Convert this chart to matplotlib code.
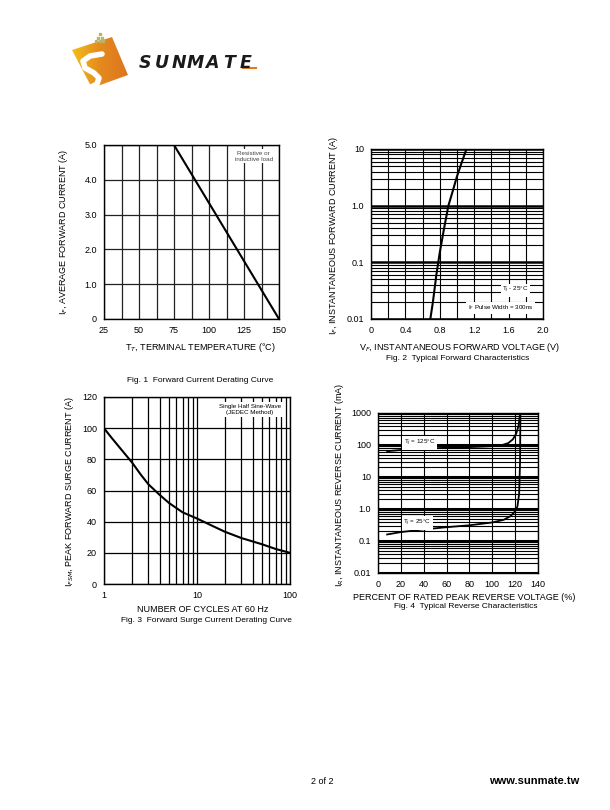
import numpy as np
import matplotlib.pyplot as plt
from matplotlib.patches import Polygon
from matplotlib.colors import LinearSegmentedColormap
from matplotlib.ticker import FixedLocator, NullFormatter

plt.rcParams['font.family'] = ['Liberation Sans', 'DejaVu Sans']

# ---- data ----
# Fig. 1  forward current derating
temp_c = [25, 75, 150]
if_avg = [5.0, 5.0, 0.0]
f1_xticks = [25, 50, 75, 100, 125, 150]
f1_yticks = [0, 1, 2, 3, 4, 5]
f1_ylabels = ['0', '1.0', '2.0', '3.0', '4.0', '5.0']

# Fig. 2  typical forward characteristics
vf = [0.69, 0.72, 0.76, 0.80, 0.85, 0.90, 0.95, 1.00, 1.05, 1.11]
if_inst = [0.01, 0.02, 0.06, 0.15, 0.4, 1.0, 1.8, 3.3, 5.5, 10]
f2_xticks = [0, 0.4, 0.8, 1.2, 1.6, 2.0]
f2_xlabels = ['0', '0.4', '0.8', '1.2', '1.6', '2.0']
f2_yticks = [0.01, 0.1, 1, 10]
f2_ylabels = ['0.01', '0.1', '1.0', '10']

# Fig. 3  forward surge current derating
cycles = [1, 1.2, 1.5, 2, 2.5, 3, 4, 5, 7, 10, 15, 20, 30, 50, 70, 100]
ifsm = [100, 94, 87, 78, 70, 64, 57, 52, 46, 42, 37, 33.5, 29.5, 25.5, 22.5, 20]
f3_xticks = [1, 10, 100]
f3_yticks = [0, 20, 40, 60, 80, 100, 120]

# Fig. 4  typical reverse characteristics
pct_125 = [8, 20, 40, 60, 80, 100, 108, 114, 118, 121, 123, 124]
ir_125 = [64, 70, 77, 82, 86, 92, 98, 115, 150, 230, 400, 800]
pct_25 = [8, 20, 40, 60, 80, 100, 110, 116, 120, 122, 123.5, 124.3, 124.6]
ir_25 = [0.16, 0.19, 0.23, 0.27, 0.31, 0.38, 0.46, 0.6, 0.85, 1.2, 3, 30, 1000]
f4_xticks = [0, 20, 40, 60, 80, 100, 120, 140]
f4_yticks = [0.01, 0.1, 1, 10, 100, 1000]
f4_ylabels = ['0.01', '0.1', '1.0', '10', '100', '1000']

W, H = 610, 810
fig = plt.figure(figsize=(W / 100, H / 100), dpi=100)


def px_axes(l, t, r, b):
    return fig.add_axes([l / W, 1 - b / H, (r - l) / W, (b - t) / H])


def ftext(x, y, s, **kw):
    fig.text(x / W, 1 - y / H, s, **kw)


# overlay for logo / footer
ov = fig.add_axes([0, 0, 1, 1])
ov.set_xlim(0, W)
ov.set_ylim(H, 0)
ov.axis('off')

sq = [(72, 50), (112, 37), (128, 75), (92, 88)]
poly = Polygon(sq, closed=True, facecolor='none', edgecolor='none')
ov.add_patch(poly)
grad = np.linspace(0, 1, 100).reshape(1, -1)
img = ov.imshow(grad, extent=(70, 130, 90, 35),
                cmap=LinearSegmentedColormap.from_list('lg', ['#F2C21A', '#E58A1E', '#DC741F']),
                aspect='auto', zorder=1)
img.set_clip_path(poly)
s_x = [102, 90, 83, 85, 94, 99, 97, 89]
s_y = [54, 56, 61, 68, 73, 78, 84, 88]
ov.plot(s_x, s_y, color='white', lw=4, solid_capstyle='round', solid_joinstyle='round', zorder=2)
for i in range(3):
    for j in range(3 - i):
        ov.plot(96 + 3.5 * j + 2 * i, 41 - 3.5 * i, 's', ms=2, color='#B9B46A', zorder=2)
for k, ch in enumerate('SUNMATE'):
    ov.text(145 + 16.8 * k, 63, ch, fontsize=12.5, fontweight='bold', fontstyle='italic',
            family='DejaVu Sans', color='#1a1a1a', ha='center', va='center')
ov.plot([243, 256], [68, 68], color='#E07A1F', lw=1.5)

ftext(322, 781, '2 of 2', fontsize=6.5, ha='center', va='center')
ftext(534, 781, 'www.sunmate.tw', fontsize=8, fontweight='bold', ha='center', va='center')


def style(ax):
    for sp in ax.spines.values():
        sp.set_linewidth(1.0)
        sp.set_color('black')
    ax.tick_params(which='both', length=0, labelsize=6.5, pad=5)
    ax.set_axisbelow(True)


box = dict(facecolor='white', edgecolor='none', pad=1.2)

# ---- Fig. 1 ----
ax1 = px_axes(104, 145, 279, 319)
ax1.plot(temp_c, if_avg, color='black', lw=1.5)
ax1.set_xlim(25, 150)
ax1.set_ylim(0, 5)
ax1.set_xticks(f1_xticks)
ax1.xaxis.set_minor_locator(FixedLocator([37.5, 62.5, 87.5, 112.5, 137.5]))
ax1.set_yticks(f1_yticks, f1_ylabels)
ax1.grid(True, which='both', color='#222222', lw=0.9)
style(ax1)
ax1.text(132, 4.68, 'Resistive or\ninductive load', fontsize=4.5, ha='center', va='center',
         color='#444444', bbox=box, linespacing=1.3)
ftext(63, 232, 'I$_F$, AVERAGE FORWARD CURRENT (A)', rotation=90, fontsize=6.5,
      ha='center', va='center')
ftext(200, 348, 'T$_T$, TERMINAL TEMPERATURE (°C)', fontsize=6.5, ha='center', va='center')
ftext(200, 381, 'Fig. 1  Forward Current Derating Curve', fontsize=6, ha='center', va='center')

# ---- Fig. 2 ----
ax2 = px_axes(371, 149, 543, 319)
ax2.plot(vf, if_inst, color='black', lw=1.5)
ax2.set_yscale('log')
ax2.set_xlim(0, 2.0)
ax2.set_ylim(0.01, 10)
ax2.set_xticks(f2_xticks, f2_xlabels)
ax2.xaxis.set_minor_locator(FixedLocator([0.2, 0.6, 1.0, 1.4, 1.8]))
ax2.set_yticks(f2_yticks, f2_ylabels)
ax2.yaxis.set_minor_formatter(NullFormatter())
ax2.grid(True, which='major', color='black', lw=1.8, axis='y')
ax2.grid(True, which='minor', color='black', lw=0.8, axis='y')
ax2.grid(True, which='both', color='black', lw=0.8, axis='x')
style(ax2)
ax2.text(1.68, 0.032, 'T$_j$ - 25°C', fontsize=4.5, ha='center', va='center', bbox=box)
ax2.text(1.51, 0.0158, 'I$_F$ Pulse Width = 300ns', fontsize=4.5, ha='center', va='center', bbox=box)
ftext(334, 235, 'I$_F$, INSTANTANEOUS FORWARD CURRENT (A)', rotation=90, fontsize=6.5,
      ha='center', va='center')
ftext(460, 348, 'V$_F$, INSTANTANEOUS FORWARD VOLTAGE (V)', fontsize=6.5, ha='center', va='center')
ftext(458, 358, 'Fig. 2  Typical Forward Characteristics', fontsize=6, ha='center', va='center')

# ---- Fig. 3 ----
ax3 = px_axes(104, 397, 290, 584)
ax3.plot(cycles, ifsm, color='black', lw=1.5)
ax3.set_xscale('log')
ax3.set_xlim(1, 100)
ax3.set_ylim(0, 120)
ax3.set_xticks(f3_xticks, [str(v) for v in f3_xticks])
ax3.xaxis.set_minor_formatter(NullFormatter())
ax3.set_yticks(f3_yticks)
ax3.grid(True, which='both', color='black', lw=0.9)
ax3.grid(False, which='minor', axis='y')
style(ax3)
ax3.text(37, 112, 'Single Half Sine-Wave\n(JEDEC Method)', fontsize=4.5, ha='center', va='center',
         bbox=box, linespacing=1.3)
ftext(70, 492, 'I$_{FSM}$, PEAK FORWARD SURGE CURRENT (A)', rotation=90, fontsize=6.5,
      ha='center', va='center')
ftext(203, 609, 'NUMBER OF CYCLES AT 60 Hz', fontsize=6.5, ha='center', va='center')
ftext(206, 620, 'Fig. 3  Forward Surge Current Derating Curve', fontsize=6, ha='center', va='center')

# ---- Fig. 4 ----
ax4 = px_axes(378, 413, 538, 573)
ax4.plot(pct_125, ir_125, color='black', lw=1.3)
ax4.plot(pct_25, ir_25, color='black', lw=1.3)
ax4.set_yscale('log')
ax4.set_xlim(0, 140)
ax4.set_ylim(0.01, 1000)
ax4.set_xticks(f4_xticks)
ax4.set_yticks(f4_yticks, f4_ylabels)
ax4.yaxis.set_minor_formatter(NullFormatter())
ax4.grid(True, which='major', color='black', lw=2.2, axis='y')
ax4.grid(True, which='minor', color='black', lw=0.8, axis='y')
ax4.grid(True, which='major', color='black', lw=0.8, axis='x')
style(ax4)
ax4.text(36.7, 116, 'T$_j$ = 125°C', fontsize=4.5, ha='center', va='center', bbox=box)
ax4.text(34.6, 0.37, 'T$_j$ = 25°C', fontsize=4.5, ha='center', va='center', bbox=box)
ftext(340, 485, 'I$_R$, INSTANTANEOUS REVERSE CURRENT (mA)', rotation=90, fontsize=6.5,
      ha='center', va='center')
ftext(464, 598, 'PERCENT OF RATED PEAK REVERSE VOLTAGE (%)', fontsize=6.5, ha='center', va='center')
ftext(466, 607, 'Fig. 4  Typical Reverse Characteristics', fontsize=6, ha='center', va='center')

fig.savefig('out.png', dpi=100, facecolor='white')
